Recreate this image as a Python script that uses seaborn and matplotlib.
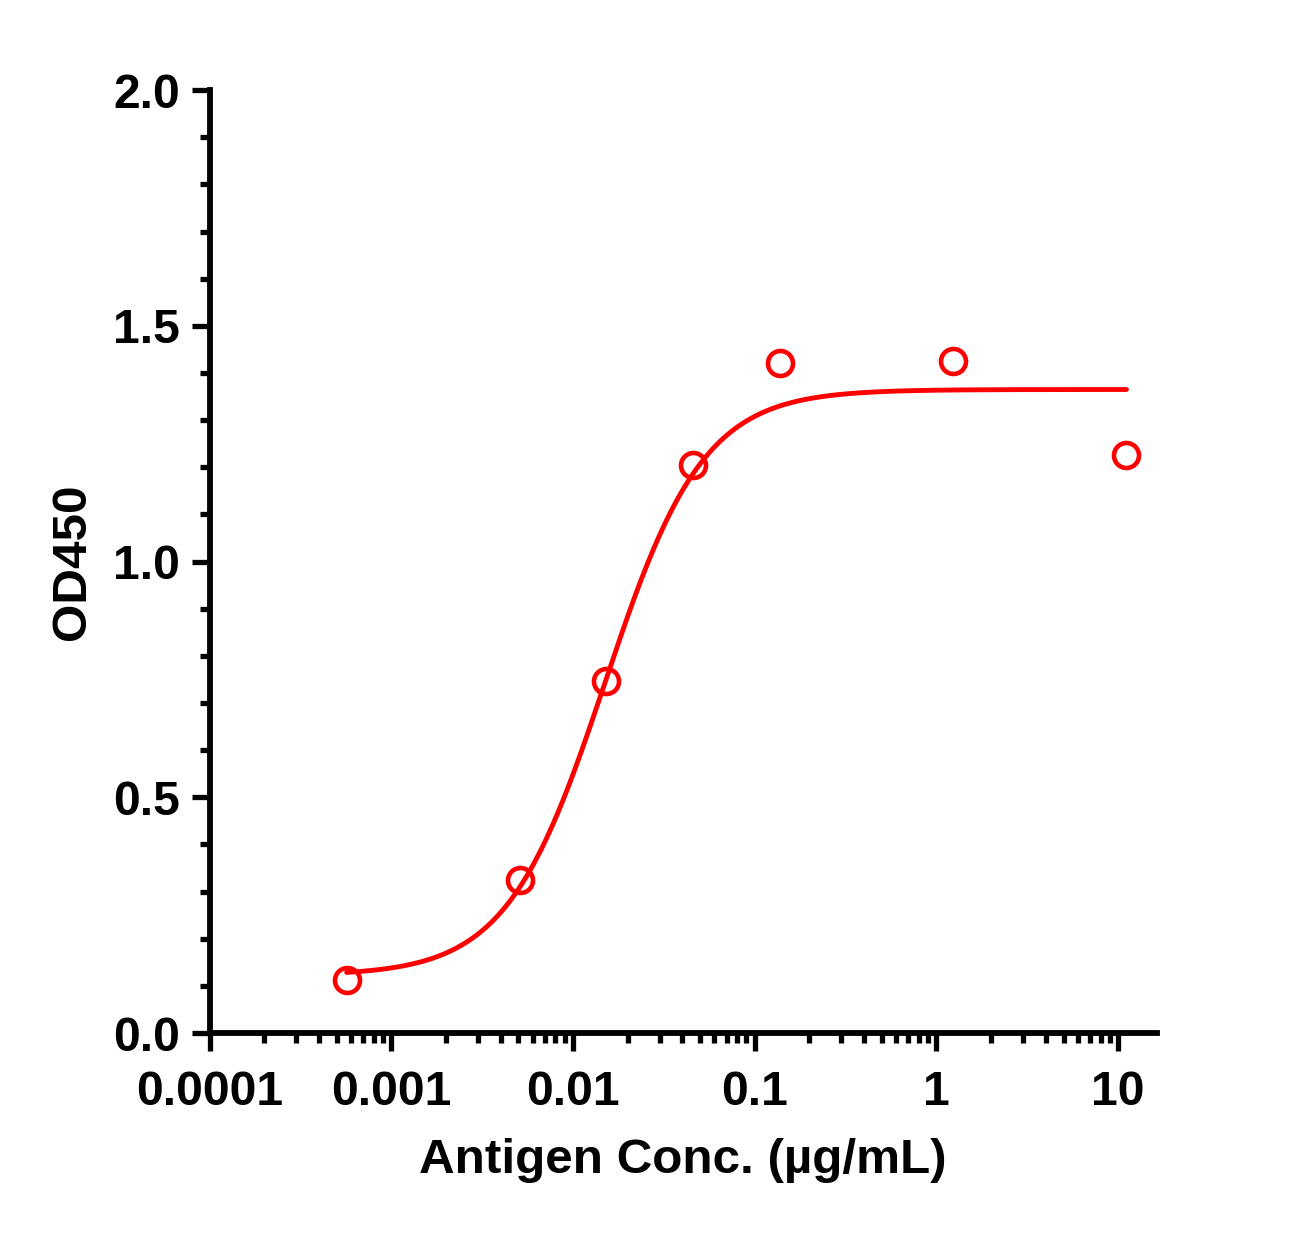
import numpy as np
import pandas as pd
import matplotlib
matplotlib.use("Agg")
import matplotlib.pyplot as plt
from matplotlib.ticker import FixedLocator, FixedFormatter
import seaborn as sns

# === 数据 ===
conc = [0.000568, 0.00508, 0.0152, 0.0457, 0.137, 1.23, 11.1]
od450 = [0.112, 0.325, 0.747, 1.205, 1.422, 1.426, 1.226]

# 4PL 拟合参数
fit_bottom = 0.122
fit_top = 1.365
fit_ec50 = 0.0150
fit_hill = 1.6

x_ticks = [0.0001, 0.001, 0.01, 0.1, 1, 10]
x_ticklabels = ["0.0001", "0.001", "0.01", "0.1", "1", "10"]
y_ticks = [0.0, 0.5, 1.0, 1.5, 2.0]
y_ticklabels = ["0.0", "0.5", "1.0", "1.5", "2.0"]

df_pts = pd.DataFrame({"conc": conc, "od": od450})
xs = np.logspace(np.log10(min(conc)), np.log10(max(conc)), 400)
df_fit = pd.DataFrame({
    "conc": xs,
    "od": fit_bottom + (fit_top - fit_bottom) / (1 + (fit_ec50 / xs) ** fit_hill),
})

sns.set_style("ticks")
plt.rcParams['font.family'] = ['Liberation Sans', 'DejaVu Sans']
plt.rcParams['font.weight'] = 'bold'
plt.rcParams['text.color'] = 'black'
plt.rcParams['axes.labelcolor'] = 'black'
plt.rcParams['xtick.color'] = 'black'
plt.rcParams['ytick.color'] = 'black'

fig = plt.figure(figsize=(13.08, 12.36), dpi=100)
ax = fig.add_axes([0.1602, 0.1642, 0.7242, 0.7629])

sns.lineplot(data=df_fit, x="conc", y="od", color="#ff0000", linewidth=3.5, ax=ax)
sns.lineplot(data=df_pts, x="conc", y="od", ax=ax, linestyle="", marker="o",
             markersize=18, markerfacecolor="none", markeredgecolor="#ff0000",
             markeredgewidth=3.3, color="#ff0000")

ax.set_xscale("log")
ax.set_xlim(1e-4, 16.3)
ax.set_ylim(0, 2.0)

ax.xaxis.set_major_locator(FixedLocator(x_ticks))
ax.xaxis.set_major_formatter(FixedFormatter(x_ticklabels))
minor_x = [m * d for d in [1e-4, 1e-3, 1e-2, 1e-1, 1] for m in range(2, 10)]
ax.xaxis.set_minor_locator(FixedLocator(minor_x))
ax.xaxis.set_minor_formatter(FixedFormatter([""] * len(minor_x)))

ax.yaxis.set_major_locator(FixedLocator(y_ticks))
ax.yaxis.set_major_formatter(FixedFormatter(y_ticklabels))
ax.yaxis.set_minor_locator(FixedLocator(np.arange(0, 2.01, 0.1)))

sns.despine(ax=ax)
for s in ["left", "bottom"]:
    ax.spines[s].set_linewidth(4.2)
    ax.spines[s].set_color("black")

ax.tick_params(which="major", length=13, width=3.8, color="black", labelsize=34.7,
               labelcolor="black")
ax.tick_params(which="minor", length=7.4, width=3.8, color="black")
ax.tick_params(axis="x", which="major", pad=13.5)
ax.tick_params(axis="y", which="major", pad=8)
for lab in ax.get_xticklabels() + ax.get_yticklabels():
    lab.set_fontweight("bold")

ax.set_xlabel("Antigen Conc. (µg/mL)", fontsize=35.6, fontweight="bold", labelpad=17,
              color="black")
ax.set_ylabel("OD450", fontsize=35.6, fontweight="bold", labelpad=13, color="black")
if ax.get_legend():
    ax.get_legend().remove()

fig.savefig("out.png", dpi=100, facecolor="white")
